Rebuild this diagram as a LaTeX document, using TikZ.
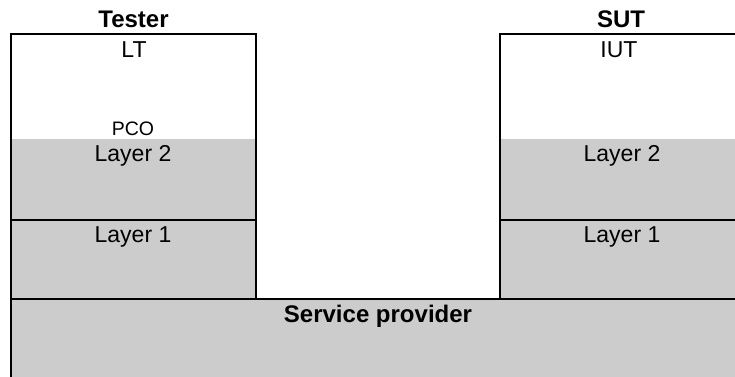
\documentclass[tikz,border=0pt]{standalone}
\usepackage{fontspec}
\setmainfont{Liberation Sans}
\begin{document}
\begin{tikzpicture}[x=1pt,y=-1pt]
\definecolor{layergray}{HTML}{CCCCCC}
\tikzset{
  zone/.style={rectangle, inner sep=0pt, outer sep=0pt, anchor=north west, minimum width=245pt},
  whitezone/.style={zone, fill=white},
  grayzone/.style={zone, fill=layergray},
  frame/.style={line width=2pt, line join=miter},
  lbl/.style={inner sep=0pt, anchor=base, font=\fontsize{23}{27}\selectfont},
  blbl/.style={lbl, font=\fontsize{24}{28}\selectfont\bfseries},
  slbl/.style={lbl, font=\fontsize{19.5}{23}\selectfont}
}
\useasboundingbox (0,0) rectangle (735,376);
\clip (0,0) rectangle (735,376);
% Tester stack
\node[whitezone, minimum height=105pt] (lt) at (11,34) {};
\node[grayzone, minimum height=81pt] (ltl2) at (11,139) {};
\node[grayzone, draw, frame, minimum height=79pt] (ltl1) at (11,220) {};
\draw[frame] (lt.north west) rectangle (ltl1.south east);
% SUT stack
\node[whitezone, minimum height=105pt] (iut) at (500,34) {};
\node[grayzone, minimum height=81pt] (iutl2) at (500,139) {};
\node[grayzone, draw, frame, minimum height=79pt] (iutl1) at (500,220) {};
\draw[frame] (iut.north west) rectangle (iutl1.south east);
% Service provider
\node[grayzone, draw, frame, minimum width=734pt, minimum height=100pt] (sp) at (11,299) {};
% Labels
\node[blbl] (tester) at (133.5,27.3) {Tester};
\node[lbl] (ltt) at (134,57.3) {LT};
\node[slbl] (pco) at (133,135) {PCO};
\node[lbl] (l2t) at (133,161) {Layer 2};
\node[lbl] (l1t) at (133,242.5) {Layer 1};
\node[blbl] (sut) at (621,27.3) {SUT};
\node[lbl] (iutt) at (619,57.3) {IUT};
\node[lbl] (r2t) at (622,161) {Layer 2};
\node[lbl] (r1t) at (622,242.5) {Layer 1};
\node[blbl] (spt) at (378,322.5) {Service provider};
\end{tikzpicture}
\end{document}
